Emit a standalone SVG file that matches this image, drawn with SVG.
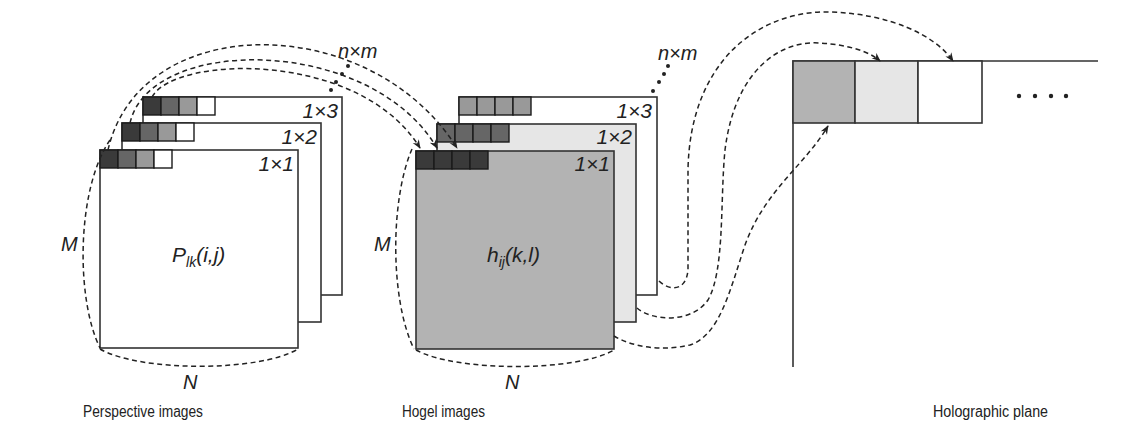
<svg xmlns="http://www.w3.org/2000/svg" width="1143" height="437" viewBox="0 0 1143 437">
  <style>
    .frame { stroke: #333; stroke-width: 1.6; }
    .cell { stroke: #1a1a1a; stroke-width: 1.4; }
    .c0 { fill: #3a3a3a; }
    .c1 { fill: #666; }
    .c2 { fill: #999; }
    .c3 { fill: #fff; }
    .dash { fill: none; stroke: #222; stroke-width: 1.5; stroke-dasharray: 5 3.5; }
    .arrow { marker-end: url(#ah); }
    .it { font-family: "Liberation Sans", Arial, sans-serif; font-style: italic; fill: #222; }
    .cap { font-family: "Liberation Sans", Arial, sans-serif; font-size: 16px; fill: #222; }
    .dot { fill: #222; }
  </style>
  <defs>
    <marker id="ah" viewBox="0 0 10 10" refX="9" refY="5" markerWidth="9" markerHeight="9" orient="auto" markerUnits="userSpaceOnUse">
      <path d="M0,1 L10,5 L0,9 L3,5 z" fill="#222"/>
    </marker>
  </defs>

  <rect width="1143" height="437" fill="#fff"/>

  <!-- Perspective images stack (back to front) -->
  <g id="perspective-1x3">
    <rect class="frame" x="143" y="97" width="199" height="198" fill="#fff"/>
    <rect class="cell c0" x="143" y="97" width="18" height="18"/>
    <rect class="cell c1" x="161" y="97" width="18" height="18"/>
    <rect class="cell c2" x="179" y="97" width="18" height="18"/>
    <rect class="cell c3" x="197" y="97" width="18" height="18"/>
    <text class="it" x="338" y="118" font-size="21" text-anchor="end">1×3</text>
  </g>
  <g id="perspective-1x2">
    <rect class="frame" x="122" y="123" width="199" height="199" fill="#fff"/>
    <rect class="cell c0" x="122" y="123" width="18" height="18"/>
    <rect class="cell c1" x="140" y="123" width="18" height="18"/>
    <rect class="cell c2" x="158" y="123" width="18" height="18"/>
    <rect class="cell c3" x="176" y="123" width="18" height="18"/>
    <text class="it" x="317" y="144" font-size="21" text-anchor="end">1×2</text>
  </g>
  <g id="perspective-1x1">
    <rect class="frame" x="100" y="150" width="198" height="198" fill="#fff"/>
    <rect class="cell c0" x="100" y="150" width="18" height="18"/>
    <rect class="cell c1" x="118" y="150" width="18" height="18"/>
    <rect class="cell c2" x="136" y="150" width="18" height="18"/>
    <rect class="cell c3" x="154" y="150" width="18" height="18"/>
    <text class="it" x="294" y="171" font-size="21" text-anchor="end">1×1</text>
    <text class="it" x="172" y="262" font-size="21">P<tspan font-size="14" dy="5">lk</tspan><tspan dy="-5">(i,j)</tspan></text>
  </g>

  <!-- Hogel images stack (back to front) -->
  <g id="hogel-1x3">
    <rect class="frame" x="459" y="97" width="198" height="198" fill="#fff"/>
    <rect class="cell c2" x="459" y="97" width="18" height="18"/>
    <rect class="cell c2" x="477" y="97" width="18" height="18"/>
    <rect class="cell c2" x="495" y="97" width="18" height="18"/>
    <rect class="cell c2" x="513" y="97" width="18" height="18"/>
    <text class="it" x="652" y="118" font-size="21" text-anchor="end">1×3</text>
  </g>
  <g id="hogel-1x2">
    <rect class="frame" x="437" y="124" width="199" height="198" fill="#e6e6e6"/>
    <rect class="cell c1" x="437" y="124" width="18" height="18"/>
    <rect class="cell c1" x="455" y="124" width="18" height="18"/>
    <rect class="cell c1" x="473" y="124" width="18" height="18"/>
    <rect class="cell c1" x="491" y="124" width="18" height="18"/>
    <text class="it" x="632" y="144" font-size="21" text-anchor="end">1×2</text>
  </g>
  <g id="hogel-1x1">
    <rect class="frame" x="416" y="151" width="198" height="198" fill="#b3b3b3"/>
    <rect class="cell c0" x="416" y="151" width="18" height="18"/>
    <rect class="cell c0" x="434" y="151" width="18" height="18"/>
    <rect class="cell c0" x="452" y="151" width="18" height="18"/>
    <rect class="cell c0" x="470" y="151" width="18" height="18"/>
    <text class="it" x="610" y="171" font-size="21" text-anchor="end">1×1</text>
    <text class="it" x="487" y="262" font-size="21">h<tspan font-size="14" dy="5">ij</tspan><tspan dy="-5">(k,l)</tspan></text>
  </g>

  <!-- Holographic plane -->
  <g id="holographic-plane">
    <path class="frame" fill="none" d="M793,367 L793,61 L1098,61"/>
    <rect class="frame" x="793" y="61" width="62" height="62" fill="#b3b3b3"/>
    <rect class="frame" x="855" y="61" width="63" height="62" fill="#e6e6e6"/>
    <rect class="frame" x="918" y="61" width="64" height="62" fill="#fff"/>
    <circle class="dot" cx="1019" cy="96" r="2.2"/>
    <circle class="dot" cx="1035" cy="96" r="2.2"/>
    <circle class="dot" cx="1051" cy="96" r="2.2"/>
    <circle class="dot" cx="1066" cy="96" r="2.2"/>
  </g>

  <!-- Connectors and dimension curves -->
  <g id="connectors">
    <!-- first pixel of each perspective image to hogel 1x1 -->
    <path class="dash arrow" d="M108,150 C140,10 370,10 457,148"/>
    <path class="dash arrow" d="M130,123 C150,35 370,35 437,148"/>
    <path class="dash arrow" d="M152,97 C175,55 360,50 420,148"/>
    <!-- hogels to holographic plane -->
    <path class="dash arrow" d="M659,281 C668,290 686,293 688,270 L688,170 C690,60 760,10 830,12 C890,14 935,35 953,61"/>
    <path class="dash arrow" d="M637,308 C650,320 690,325 708,300 C725,270 720,200 725,150 C735,70 780,40 820,43 C850,45 870,52 880,61"/>
    <path class="dash arrow" d="M614,336 C630,346 660,352 690,345 C720,335 730,290 745,245 C765,190 805,165 828,126"/>
    <!-- M and N extents -->
    <path class="dash" d="M110,140 C76,190 76,300 100,348"/>
    <path class="dash" d="M100,349 C140,372 260,372 298,349"/>
    <path class="dash" d="M412,149 C390,200 390,300 414,349"/>
    <path class="dash" d="M416,350 C456,372 576,372 614,350"/>
    <!-- n x m continuation dots -->
    <circle class="dot" cx="348" cy="66" r="2"/>
    <circle class="dot" cx="342" cy="74" r="2"/>
    <circle class="dot" cx="336" cy="82" r="2"/>
    <circle class="dot" cx="331" cy="90" r="2"/>
    <circle class="dot" cx="668" cy="66" r="2"/>
    <circle class="dot" cx="664" cy="74" r="2"/>
    <circle class="dot" cx="659" cy="82" r="2"/>
    <circle class="dot" cx="653" cy="91" r="2"/>
  </g>

  <!-- Labels -->
  <g id="labels">
    <text class="it" x="338" y="58" font-size="20">n×m</text>
    <text class="it" x="658" y="60" font-size="20">n×m</text>
    <text class="it" x="61" y="251" font-size="20">M</text>
    <text class="it" x="374" y="251" font-size="20">M</text>
    <text class="it" x="183" y="389" font-size="20">N</text>
    <text class="it" x="505" y="389" font-size="20">N</text>
    <text class="cap" x="83" y="417" textLength="120" lengthAdjust="spacingAndGlyphs">Perspective images</text>
    <text class="cap" x="402" y="417" textLength="83" lengthAdjust="spacingAndGlyphs">Hogel images</text>
    <text class="cap" x="933" y="417" textLength="115" lengthAdjust="spacingAndGlyphs">Holographic plane</text>
  </g>
</svg>
